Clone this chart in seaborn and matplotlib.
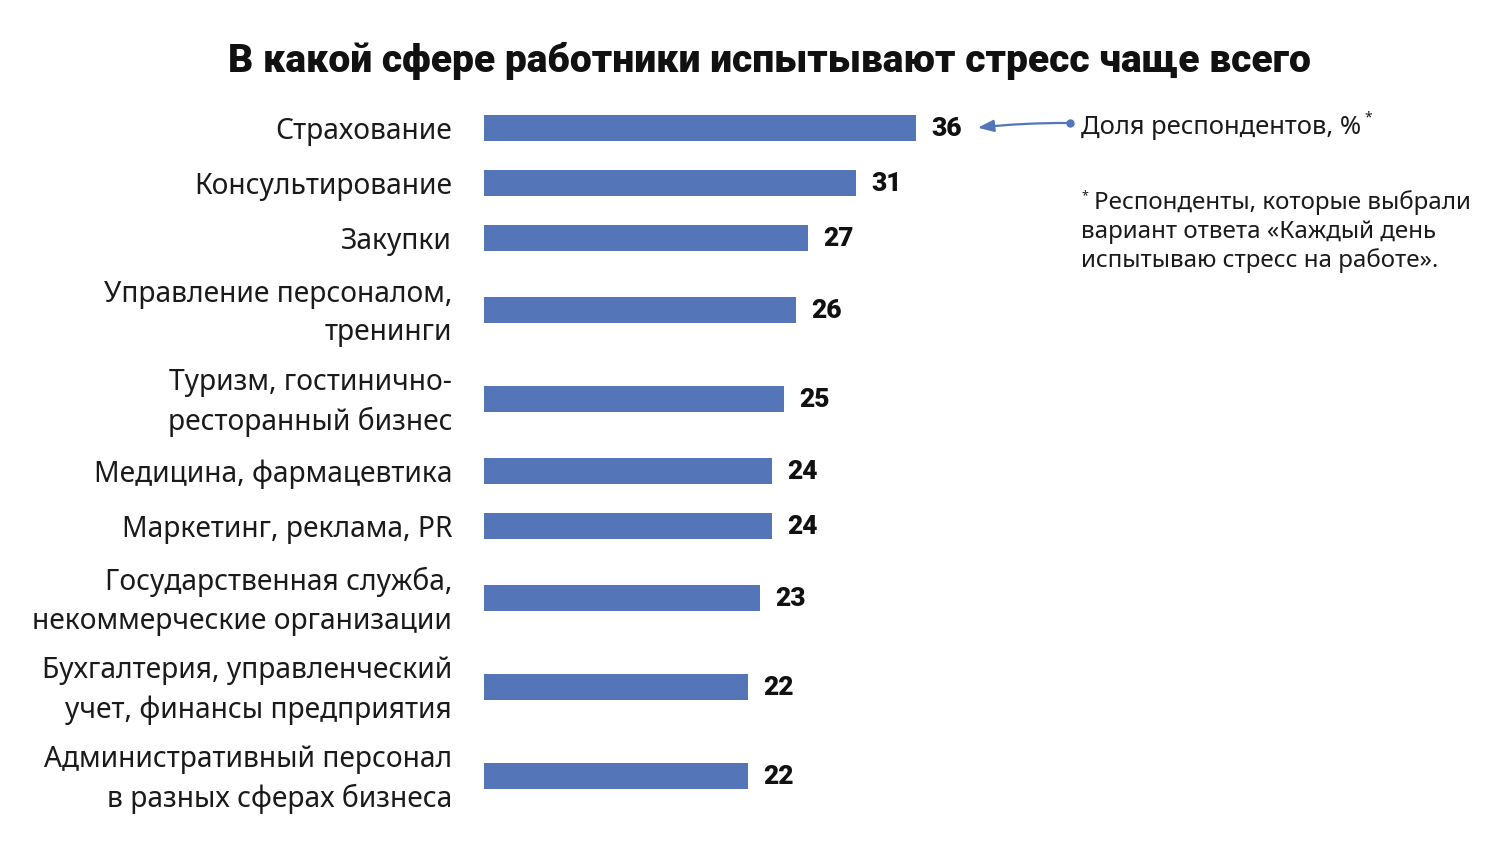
import matplotlib
matplotlib.use("Agg")
import matplotlib.pyplot as plt
import matplotlib.transforms as mtrans
import seaborn as sns
import numpy as np
import pandas as pd

categories = [
    "Страхование",
    "Консультирование",
    "Закупки",
    "Управление персоналом,\nтренинги",
    "Туризм, гостинично-\nресторанный бизнес",
    "Медицина, фармацевтика",
    "Маркетинг, реклама, PR",
    "Государственная служба,\nнекоммерческие организации",
    "Бухгалтерия, управленческий\nучет, финансы предприятия",
    "Административный персонал\nв разных сферах бизнеса",
]
values = [36, 31, 27, 26, 25, 24, 24, 23, 22, 22]
title = "В какой сфере работники испытывают стресс чаще всего"
legend_text = "Доля респондентов, %"
footnote_lines = ["Респонденты, которые выбрали",
                  "вариант ответа «Каждый день",
                  "испытываю стресс на работе»."]

sns.set_theme(style="white")
plt.rcParams["font.family"] = ["Noto Sans", "DejaVu Sans"]

W, H = 1500, 847
fig = plt.figure(figsize=(W / 100, H / 100), dpi=100)

def fx(x):
    return x / W

def fy(y):
    return 1 - y / H

# layout: bar centers in pixel units, depending on label line count
lines = [c.count("\n") + 1 for c in categories]
pos = [128.0]
for i in range(1, len(categories)):
    pos.append(pos[-1] + 55 + 17 * ((lines[i - 1] - 1) + (lines[i] - 1)))

ax_top, ax_bot = 100, 820
ax_left, ax_right = 484, 1084  # 600 px -> 0..50 units (12 px per unit)
ax = fig.add_axes([fx(ax_left), fy(ax_bot), fx(ax_right - ax_left), (ax_bot - ax_top) / H])

df = pd.DataFrame({"cat": categories, "val": values, "pos": pos})
bar_color = "#5476B9"
sns.barplot(data=df, x="val", y="pos", orient="y", native_scale=True,
            width=26 / 55, color=bar_color, saturation=1, ax=ax, edgecolor="none")

ax.set_xlim(0, 50)
ax.set_ylim(ax_bot, ax_top)
ax.set_xticks([])
ax.set_yticks(pos)
ax.set_yticklabels(categories, fontsize=20.3, ha="right", va="center",
                   linespacing=1.43, color="#1a1a1a")
ax.tick_params(axis="y", length=0, pad=32 * 0.72)
shift = mtrans.ScaledTranslation(0, -3.5 / 100, fig.dpi_scale_trans)
for lbl in ax.get_yticklabels():
    lbl.set_transform(lbl.get_transform() + shift)
ax.set_xlabel("")
ax.set_ylabel("")
for s in ax.spines.values():
    s.set_visible(False)

for v, p in zip(values, pos):
    ax.text(v + 15 / 12, p + 1, str(v), va="center", ha="left", fontsize=19,
            fontweight="black", color="#111111", family=["Roboto", "DejaVu Sans"])

fig.text(fx(769), fy(61), title, ha="center", va="center", fontsize=28.1,
         fontweight="black", color="#111111", family=["Roboto", "DejaVu Sans"])

fig.text(fx(1081), fy(127), legend_text, ha="left", va="center", fontsize=18.4,
         color="#1a1a1a")
fig.text(fx(1364), fy(118), "*", ha="left", va="center", fontsize=10, color="#1a1a1a")

fig.text(fx(1081), fy(196), "*", ha="left", va="center", fontsize=9, color="#1a1a1a")
fig.text(fx(1094), fy(203), footnote_lines[0], ha="left", va="center",
         fontsize=17.4, color="#1a1a1a")
for k, ln in enumerate(footnote_lines[1:]):
    fig.text(fx(1081), fy(232 + 29 * k), ln, ha="left", va="center",
             fontsize=17.4, color="#1a1a1a")

# arrow annotation
ax_arrow = fig.add_axes([0, 0, 1, 1], facecolor="none")
ax_arrow.set_xlim(0, W)
ax_arrow.set_ylim(H, 0)
ax_arrow.axis("off")
ax_arrow.plot([1070], [123], "o", color=bar_color, ms=5)
ax_arrow.annotate("", xy=(975, 128), xytext=(1070, 123),
                  arrowprops=dict(arrowstyle="-|>,head_length=0.8,head_width=0.3",
                                  color=bar_color, lw=1.6,
                                  connectionstyle="arc3,rad=0.03"))

fig.savefig("out.png", dpi=100)
